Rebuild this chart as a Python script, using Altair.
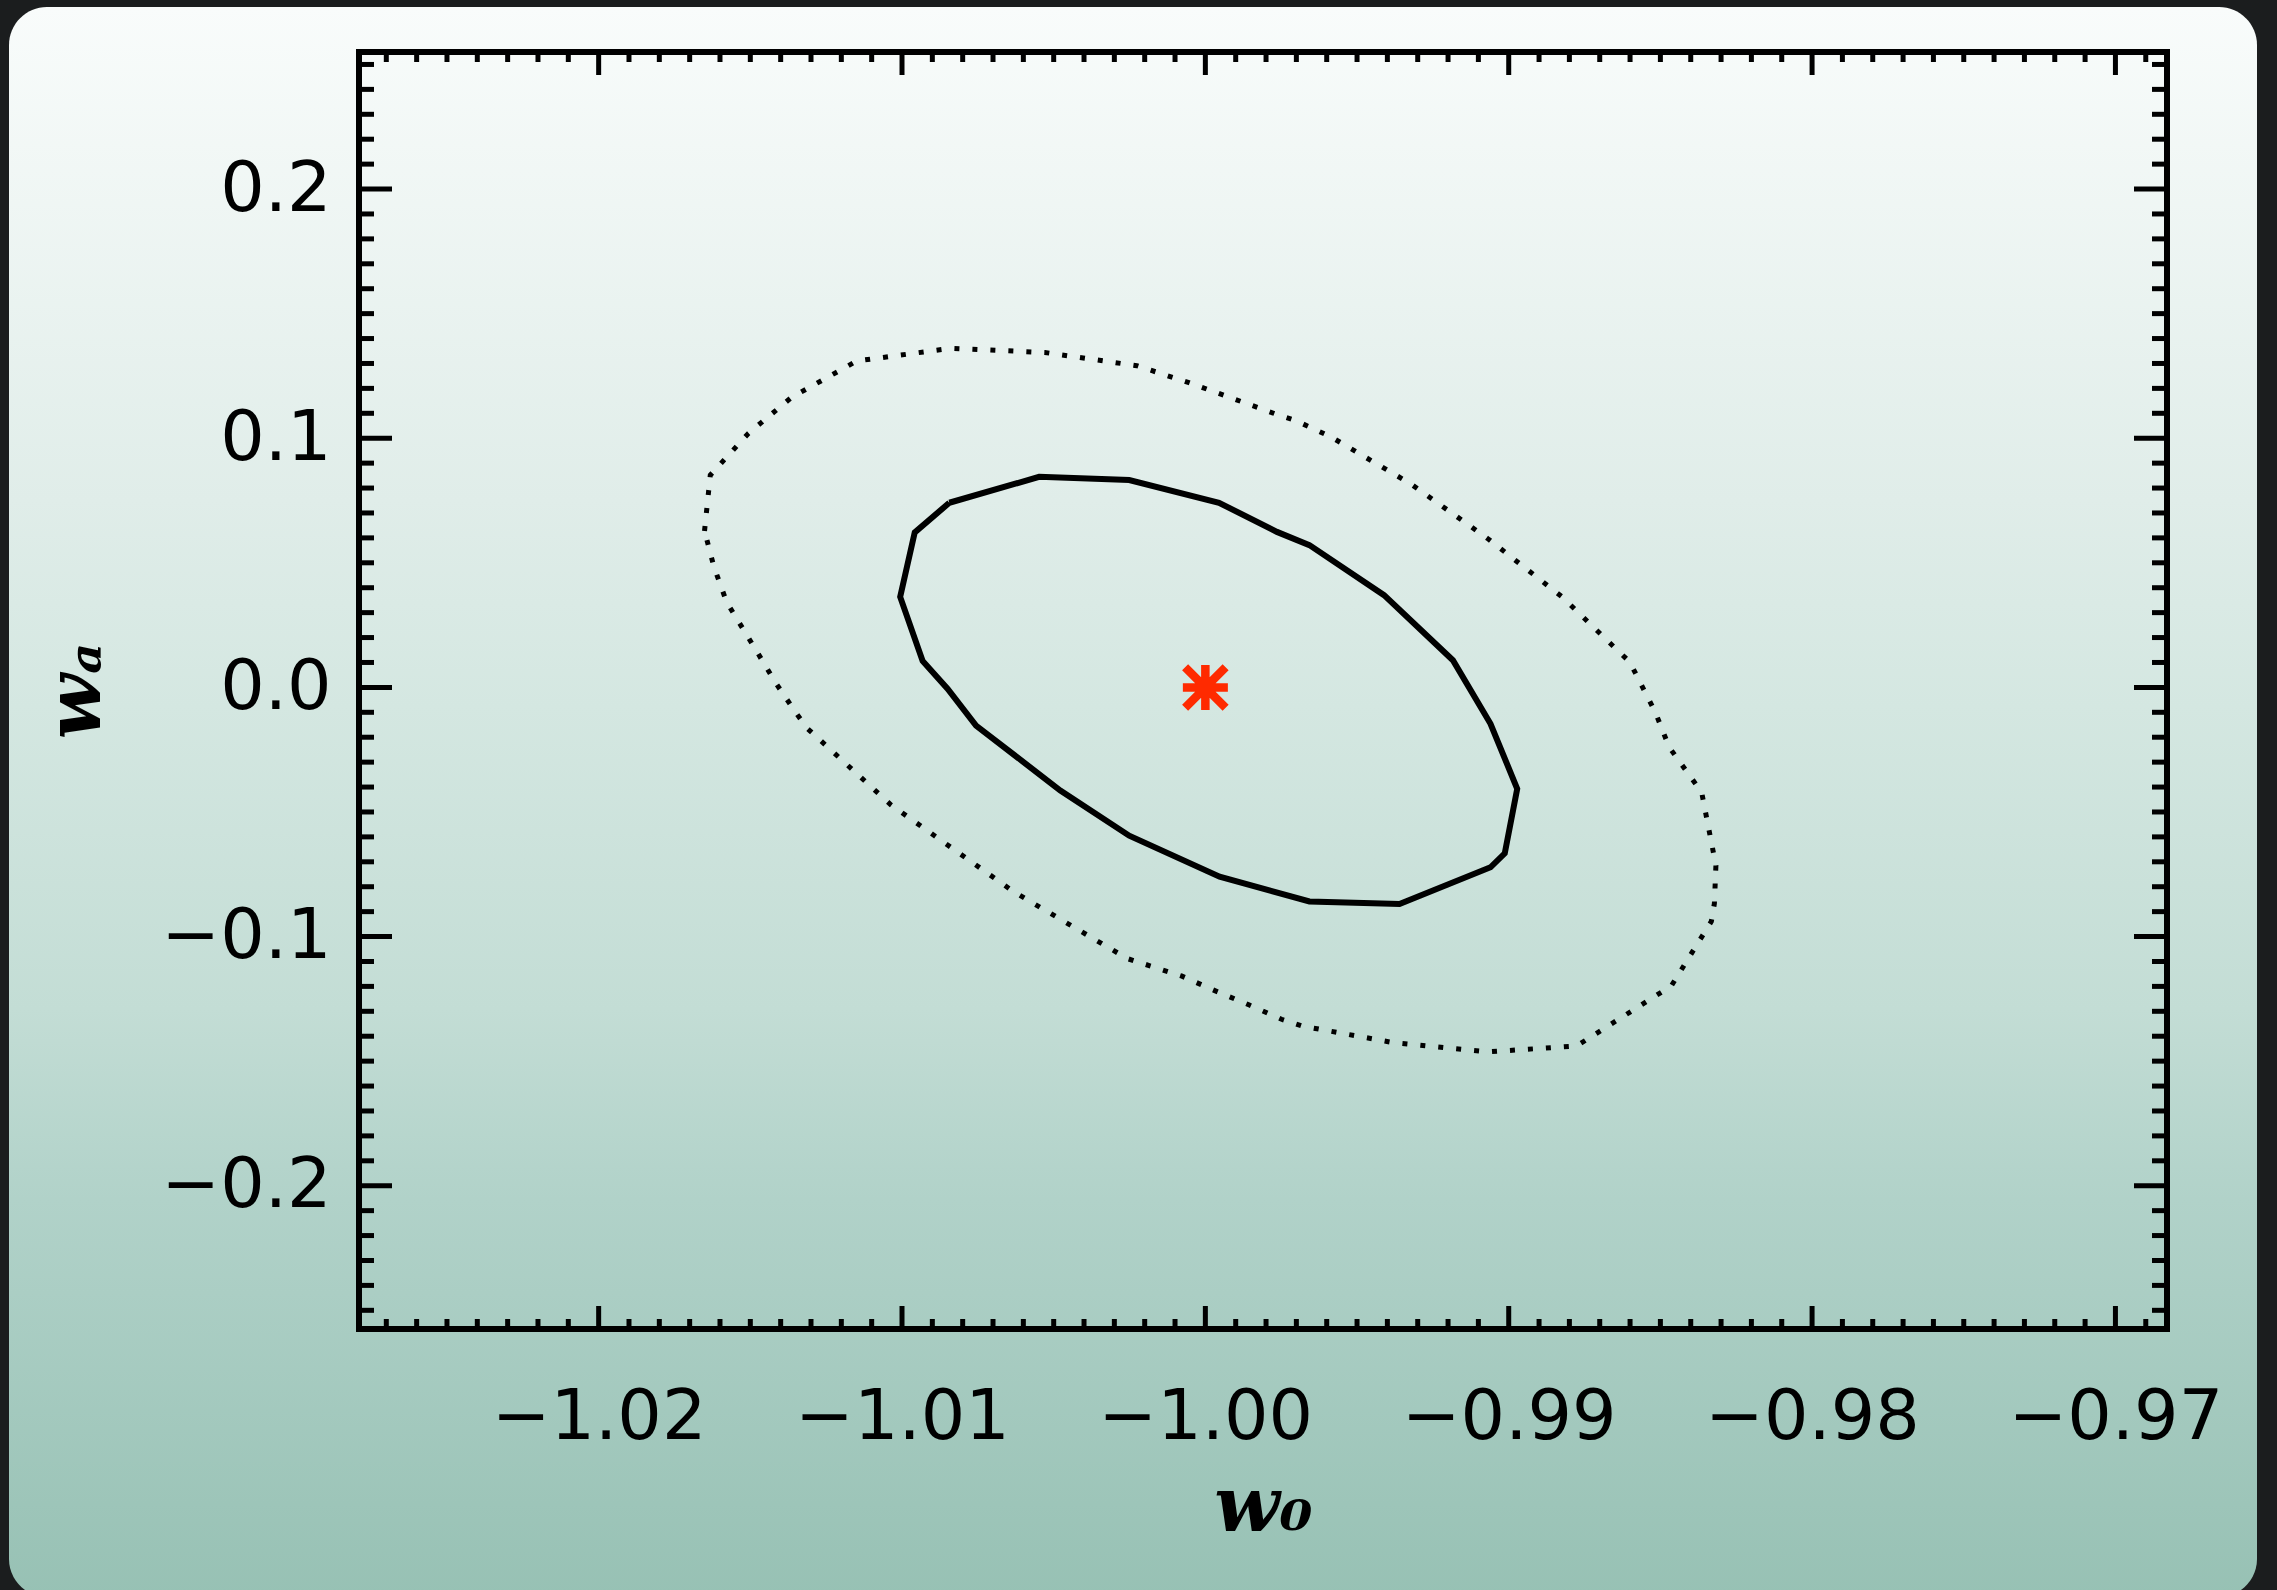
import altair as alt
import pandas as pd

# ---------------- data ----------------
X_MIN, X_MAX = -1.0279, -0.9683
Y_MIN, Y_MAX = -0.2575, 0.255

x_major = [-1.02, -1.01, -1.00, -0.99, -0.98, -0.97]
y_major = [-0.2, -0.1, 0.0, 0.1, 0.2]
x_minor = [round(-1.027 + 0.001 * i, 3) for i in range(59)]
x_minor = [v for v in x_minor if abs(v * 100 - round(v * 100)) > 1e-6]
y_minor = [round(-0.25 + 0.01 * i, 2) for i in range(51)]
y_minor = [v for v in y_minor if abs(v * 10 - round(v * 10)) > 1e-6]

# 68% contour (solid)
solid_x = [-1.00844, -1.00548, -1.00251, -0.99955, -0.99764, -0.99657, -0.99411,
           -0.99184, -0.99060, -0.98972, -0.99013, -0.99060, -0.99360, -0.99657,
           -0.99953, -1.00251, -1.00478, -1.00756, -1.00850, -1.00932, -1.01006,
           -1.00958, -1.00844]
solid_y = [0.0741, 0.0845, 0.0832, 0.0741, 0.0624, 0.0571, 0.0370,
           0.0109, -0.0146, -0.0407, -0.0666, -0.0722, -0.0869, -0.0859,
           -0.0760, -0.0595, -0.0414, -0.0153, -0.0005, 0.0106, 0.0363,
           0.0622, 0.0741]

# 95% contour (dotted)
dotted_x = [-1.01651, -1.01632, -1.01506, -1.01364, -1.01149, -1.00838, -1.00529,
            -1.00226, -1.00054, -0.99759, -0.99701, -0.99587, -0.99322, -0.99070,
            -0.98824, -0.98645, -0.98601, -0.98517, -0.98471, -0.98364, -0.98317,
            -0.98322, -0.98332, -0.98464, -0.98776, -0.99070, -0.99379, -0.99682,
            -0.99749, -0.99855, -0.99967, -1.00079, -1.00258, -1.00632, -1.01036,
            -1.01311, -1.01349, -1.01418, -1.01481, -1.01578, -1.01620, -1.01651]
dotted_y = [0.0628, 0.0852, 0.1020, 0.1164, 0.1310, 0.1361, 0.1344,
            0.1291, 0.1223, 0.1093, 0.1070, 0.1006, 0.0816, 0.0598,
            0.0363, 0.0153, 0.0102, -0.0099, -0.0240, -0.0421, -0.0715,
            -0.0867, -0.0939, -0.1198, -0.1439, -0.1463, -0.1426, -0.1359,
            -0.1332, -0.1275, -0.1218, -0.1158, -0.1088, -0.0820, -0.0472,
            -0.0166, -0.0103, 0.0021, 0.0149, 0.0342, 0.0484, 0.0628]

star_x = [-1.0]
star_y = [0.0]

# ---------------- layout ----------------
W, H = 1808, 1277
PAD = {"left": 359, "top": 52, "right": 110, "bottom": 261}
XMAJ_LEN, XMIN_LEN = 23, 10
YMAJ_LEN, YMIN_LEN = 33, 15
TICK_W = 5

xs = alt.Scale(domain=[X_MIN, X_MAX], nice=False, zero=False)
ys = alt.Scale(domain=[Y_MIN, Y_MAX], nice=False, zero=False)

solid = pd.DataFrame({"x": solid_x, "y": solid_y, "i": range(len(solid_x))})
dotted = pd.DataFrame({"x": dotted_x, "y": dotted_y, "i": range(len(dotted_x))})
star = pd.DataFrame({"x": star_x, "y": star_y})
xmaj = pd.DataFrame({"x": x_major})
xmin = pd.DataFrame({"x": x_minor})
ymaj = pd.DataFrame({"y": y_major})
ymin = pd.DataFrame({"y": y_minor})
one = pd.DataFrame({"a": [0]})

x_axis = alt.Axis(
    values=x_major, format=".2f", ticks=False, domain=False, grid=False,
    labelFont="DejaVu Sans", labelFontSize=70, labelColor="black",
    labelPadding=54, labelFlush=False, labelOverlap=False, labelLimit=0,
    title="w₀", titleFont="DejaVu Serif", titleFontStyle="italic",
    titleFontWeight="bold", titleFontSize=76, titleColor="black",
    titlePadding=18, zindex=1,
)
y_axis = alt.Axis(
    values=y_major, format=".1f", ticks=False, domain=False, grid=False,
    labelFont="DejaVu Sans", labelFontSize=70, labelColor="black",
    labelPadding=28, labelFlush=False, labelOverlap=False, labelLimit=0,
    title="wₐ", titleFont="DejaVu Serif", titleFontStyle="italic",
    titleFontWeight="bold", titleFontSize=76, titleColor="black",
    titlePadding=46, zindex=1,
)

X = alt.X("x:Q", scale=xs, axis=x_axis)
Y = alt.Y("y:Q", scale=ys, axis=y_axis)

# background panel with vertical gradient
panel = alt.Chart(one).mark_rect(
    cornerRadius=38,
    fill=alt.LinearGradient(
        gradient="linear", x1=0, x2=0, y1=0, y2=1,
        stops=[
            alt.GradientStop(color="#f9fcfb", offset=0.0),
            alt.GradientStop(color="#e0ede9", offset=0.31),
            alt.GradientStop(color="#d4e7e1", offset=0.44),
            alt.GradientStop(color="#c3ddd5", offset=0.63),
            alt.GradientStop(color="#b1d2c9", offset=0.75),
            alt.GradientStop(color="#97c1b4", offset=1.0),
        ],
    ),
).encode(
    x=alt.value(-350), x2=alt.value(1898), y=alt.value(-45), y2=alt.value(1545)
)

dotted_line = alt.Chart(dotted).mark_line(
    color="black", strokeWidth=5, strokeDash=[5, 13], strokeCap="butt"
).encode(x=X, y=Y, order="i:Q")

solid_line = alt.Chart(solid).mark_line(color="black", strokeWidth=6).encode(
    x=X, y=Y, order="i:Q"
)

star_mark = alt.Chart(star).mark_point(
    shape="M-1,0L1,0M0,-1L0,1M-0.9,-0.9L0.9,0.9M-0.9,0.9L0.9,-0.9",
    filled=False, color="#ff2a00", strokeWidth=8.5, size=2025, opacity=1,
).encode(x=X, y=Y)

def xticks(df, length):
    bot = alt.Chart(df).mark_rule(color="black", strokeWidth=TICK_W).encode(
        x=X, y=alt.value(H), y2=alt.value(H - length))
    top = alt.Chart(df).mark_rule(color="black", strokeWidth=TICK_W).encode(
        x=X, y=alt.value(0), y2=alt.value(length))
    return [bot, top]

def yticks(df, length):
    left = alt.Chart(df).mark_rule(color="black", strokeWidth=TICK_W).encode(
        y=Y, x=alt.value(0), x2=alt.value(length))
    right = alt.Chart(df).mark_rule(color="black", strokeWidth=TICK_W).encode(
        y=Y, x=alt.value(W), x2=alt.value(W - length))
    return [left, right]

frame = alt.Chart(one).mark_rect(
    filled=False, stroke="black", strokeWidth=6
).encode(x=alt.value(0), x2=alt.value(W), y=alt.value(0), y2=alt.value(H))

layers = [panel, dotted_line, solid_line, star_mark]
layers += xticks(xmaj, XMAJ_LEN) + xticks(xmin, XMIN_LEN)
layers += yticks(ymaj, YMAJ_LEN) + yticks(ymin, YMIN_LEN)
layers += [frame]

chart = alt.layer(*layers).properties(
    width=W, height=H,
    padding=PAD,
    autosize=alt.AutoSizeParams(type="none"),
    background="#1b1d1e",
).configure_view(stroke=None)

chart.save("out.html", embed_options={"renderer": "svg", "actions": False})
